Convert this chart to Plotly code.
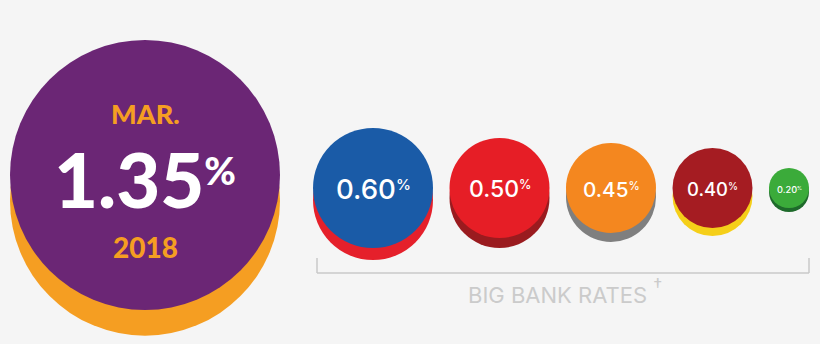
import plotly.graph_objects as go

# ---- data ----
feature_rate = 1.35
feature_month = "MAR."
feature_year = "2018"
feature_color = "#6b2675"
feature_shadow = "#f59e22"

bank_rates = [0.60, 0.50, 0.45, 0.40, 0.20]
bank_colors = ["#1a5ba7", "#e61e26", "#f4871f", "#a51c22", "#3bab3a"]
bank_shadows = ["#e5202b", "#9a1b1f", "#7f7f7f", "#f5cf19", "#1e6a2b"]
bracket_label = "BIG BANK RATES"

# ---- scales (pixels per rate unit) ----
PX = 100.0          # radius in px per 1 % point
SHADOW = 0.19       # shadow offset as share of radius
FONT = "Inter"
BG = "#f5f5f5"

fig = go.Figure()
shapes = []
annotations = []


def disc(cx, cy, r, color, shadow, off):
    shapes.append(dict(type="circle", xref="x", yref="y",
                       x0=cx - r, x1=cx + r, y0=cy - r + off, y1=cy + r + off,
                       fillcolor=shadow, line=dict(width=0), layer="above"))
    shapes.append(dict(type="circle", xref="x", yref="y",
                       x0=cx - r, x1=cx + r, y0=cy - r, y1=cy + r,
                       fillcolor=color, line=dict(width=0), layer="above"))


def pct(value, fs, k=0.78):
    return f"{value:.2f}<span style='font-size:{fs*k:.1f}px'><sup>%</sup></span>"


# feature circle
fr = feature_rate * PX
fcx, fcy = 10 + fr, 175
disc(fcx, fcy, fr, feature_color, feature_shadow, fr * SHADOW)
annotations.append(dict(x=fcx, y=fcy - 62, text=feature_month, showarrow=False,
                        font=dict(family="Lato", size=27, color=feature_shadow, weight=900)))
annotations.append(dict(x=fcx, y=fcy + 3, text=pct(feature_rate, 76, 0.72),
                        showarrow=False,
                        font=dict(family="Lato", size=76, color="white", weight=900)))
annotations.append(dict(x=fcx, y=fcy + 72, text=feature_year, showarrow=False,
                        font=dict(family="Lato", size=28, color=feature_shadow, weight=900)))

# bank circles
gap = 16.5
cy = 188
left = 313
xs = []
for rate, col, sh in zip(bank_rates, bank_colors, bank_shadows):
    r = rate * PX
    cx = left + r
    xs.append((cx, r))
    disc(cx, cy, r, col, sh, r * 0.2)
    fs = r * 0.46
    annotations.append(dict(x=cx, y=cy + 1, text=pct(rate, fs),
                            showarrow=False,
                            font=dict(family=FONT, size=fs, color="white", weight=500)))
    left = cx + r + gap

# bracket
bx0 = xs[0][0] - xs[0][1] + 4
bx1 = xs[-1][0] + xs[-1][1]
by = 273
for seg in [(bx0, 258, bx0, by), (bx0, by, bx1, by), (bx1, by, bx1, 258)]:
    shapes.append(dict(type="line", xref="x", yref="y", x0=seg[0], y0=seg[1], x1=seg[2], y1=seg[3],
                       line=dict(color="#c9c9c9", width=1.5)))
annotations.append(dict(x=(bx0 + bx1) / 2 + 2, y=291,
                        text=f"{bracket_label} <span style='font-size:26px'><sup>†</sup></span>",
                        showarrow=False,
                        font=dict(family=FONT, size=22, color="#cbcbcb", weight=400)))

fig.add_trace(go.Scatter(x=[0, 820], y=[0, 344], mode="markers",
                         marker=dict(opacity=0), hoverinfo="skip", showlegend=False))

fig.update_layout(
    width=820, height=344,
    margin=dict(l=0, r=0, t=0, b=0),
    paper_bgcolor=BG, plot_bgcolor=BG,
    xaxis=dict(range=[0, 820], visible=False, fixedrange=True),
    yaxis=dict(range=[344, 0], visible=False, fixedrange=True),
    shapes=shapes, annotations=annotations,
    showlegend=False,
)

fig.write_html("out.html", config={"displayModeBar": False})
